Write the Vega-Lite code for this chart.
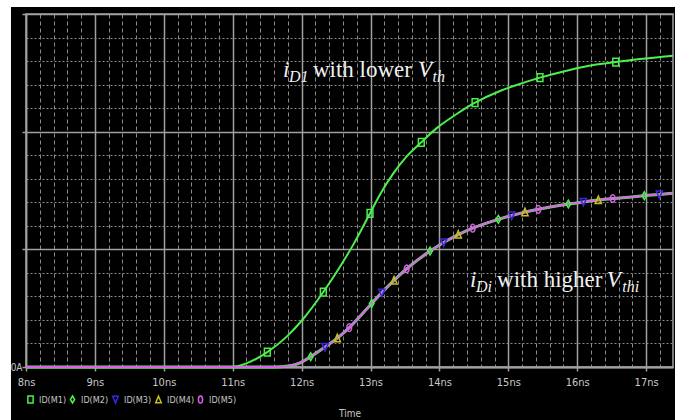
{
  "$schema": "https://vega.github.io/schema/vega-lite/v6.json",
  "width": 647,
  "height": 353,
  "autosize": {"type": "none"},
  "padding": {"left": 26, "top": 14, "right": 13, "bottom": 53},
  "background": "black",
  "config": {
    "view": {"stroke": "#a0a0a0", "strokeWidth": 1.5, "fill": "black"},
    "axis": {"labelOverlap": false, "labelFlush": false, "tickCount": 100}
  },
  "datasets": {
    "m1": [
      {"t": 8, "v": 0}, {"t": 10.98, "v": 0}, {"t": 11.2, "v": 0.031}, {"t": 11.502, "v": 0.127},
      {"t": 11.784, "v": 0.258}, {"t": 12.025, "v": 0.41}, {"t": 12.315, "v": 0.637},
      {"t": 12.557, "v": 0.852}, {"t": 12.75, "v": 1.04}, {"t": 12.993, "v": 1.306},
      {"t": 13.138, "v": 1.466}, {"t": 13.331, "v": 1.645}, {"t": 13.525, "v": 1.79},
      {"t": 13.737, "v": 1.91}, {"t": 13.961, "v": 2.03}, {"t": 14.251, "v": 2.15},
      {"t": 14.517, "v": 2.246}, {"t": 14.879, "v": 2.346}, {"t": 15.122, "v": 2.397},
      {"t": 15.46, "v": 2.459}, {"t": 15.847, "v": 2.518}, {"t": 16.234, "v": 2.566},
      {"t": 16.559, "v": 2.592}, {"t": 16.907, "v": 2.617}, {"t": 17.39, "v": 2.646}
    ],
    "mi": [
      {"t": 8, "v": 0}, {"t": 11.585, "v": 0}, {"t": 11.832, "v": 0.011}, {"t": 11.977, "v": 0.036},
      {"t": 12.132, "v": 0.088}, {"t": 12.34, "v": 0.17}, {"t": 12.518, "v": 0.245},
      {"t": 12.692, "v": 0.335}, {"t": 13.017, "v": 0.54}, {"t": 13.163, "v": 0.632},
      {"t": 13.341, "v": 0.736}, {"t": 13.525, "v": 0.835}, {"t": 13.864, "v": 0.985},
      {"t": 14.062, "v": 1.058}, {"t": 14.274, "v": 1.125}, {"t": 14.483, "v": 1.18},
      {"t": 14.855, "v": 1.255}, {"t": 15.049, "v": 1.288}, {"t": 15.242, "v": 1.316},
      {"t": 15.435, "v": 1.34}, {"t": 15.871, "v": 1.385}, {"t": 16.089, "v": 1.403},
      {"t": 16.306, "v": 1.419}, {"t": 16.515, "v": 1.432}, {"t": 16.974, "v": 1.456},
      {"t": 17.192, "v": 1.467}, {"t": 17.39, "v": 1.476}
    ],
    "markers": [
      {"series": "ID(M1)", "t": 11.502, "v": 0.127}, {"series": "ID(M1)", "t": 12.315, "v": 0.637},
      {"series": "ID(M1)", "t": 12.993, "v": 1.306}, {"series": "ID(M1)", "t": 13.737, "v": 1.91},
      {"series": "ID(M1)", "t": 14.517, "v": 2.246}, {"series": "ID(M1)", "t": 15.46, "v": 2.459},
      {"series": "ID(M1)", "t": 16.559, "v": 2.592},
      {"series": "ID(M2)", "t": 12.132, "v": 0.088}, {"series": "ID(M2)", "t": 13.017, "v": 0.54},
      {"series": "ID(M2)", "t": 13.864, "v": 0.985}, {"series": "ID(M2)", "t": 14.855, "v": 1.255},
      {"series": "ID(M2)", "t": 15.871, "v": 1.385}, {"series": "ID(M2)", "t": 16.974, "v": 1.456},
      {"series": "ID(M3)", "t": 12.34, "v": 0.17}, {"series": "ID(M3)", "t": 13.163, "v": 0.632},
      {"series": "ID(M3)", "t": 14.062, "v": 1.058}, {"series": "ID(M3)", "t": 15.049, "v": 1.288},
      {"series": "ID(M3)", "t": 16.089, "v": 1.403}, {"series": "ID(M3)", "t": 17.192, "v": 1.467},
      {"series": "ID(M4)", "t": 12.518, "v": 0.245}, {"series": "ID(M4)", "t": 13.341, "v": 0.736},
      {"series": "ID(M4)", "t": 14.274, "v": 1.125}, {"series": "ID(M4)", "t": 15.242, "v": 1.316},
      {"series": "ID(M4)", "t": 16.306, "v": 1.419},
      {"series": "ID(M5)", "t": 12.692, "v": 0.335}, {"series": "ID(M5)", "t": 13.525, "v": 0.835},
      {"series": "ID(M5)", "t": 14.483, "v": 1.18}, {"series": "ID(M5)", "t": 15.435, "v": 1.34},
      {"series": "ID(M5)", "t": 16.515, "v": 1.432}
    ],
    "notesMain": [
      {"txt": "i", "t": 11.73, "v": 2.4645}, {"txt": "V", "t": 13.69, "v": 2.4645},
      {"txt": "i", "t": 14.444, "v": 0.6824}, {"txt": "V", "t": 16.43, "v": 0.6824}
    ],
    "notesSub": [
      {"txt": "D1", "t": 11.817, "v": 2.422}, {"txt": "th", "t": 13.9, "v": 2.422},
      {"txt": "Di", "t": 14.531, "v": 0.637}, {"txt": "thi", "t": 16.655, "v": 0.637}
    ],
    "notesRoman": [
      {"txt": "with lower", "t": 12.165, "v": 2.4645},
      {"txt": "with higher", "t": 14.836, "v": 0.6824}
    ],
    "border": [
      {"x1": 7.3, "x2": 7.782, "y1": -1, "y2": 4},
      {"x1": 17.419, "x2": 18.2, "y1": -1, "y2": 4},
      {"x1": 7.3, "x2": 18.2, "y1": 3.059, "y2": 4}
    ]
  },
  "layer": [
    {
      "data": {"name": "m1"},
      "mark": {"type": "line", "color": "#4cf04c", "strokeWidth": 2, "interpolate": "monotone"},
      "encoding": {
        "x": {
          "field": "t", "type": "quantitative",
          "scale": {"domain": [8, 17.39], "nice": false, "zero": false},
          "axis": {
            "values": [8,8.2,8.4,8.6,8.8,9,9.2,9.4,9.6,9.8,10,10.2,10.4,10.6,10.8,11,11.2,11.4,11.6,11.8,12,12.2,12.4,12.6,12.8,13,13.2,13.4,13.6,13.8,14,14.2,14.4,14.6,14.8,15,15.2,15.4,15.6,15.8,16,16.2,16.4,16.6,16.8,17,17.2],
            "tickCount": 100,
            "labelExpr": "abs(datum.value - round(datum.value)) < 0.001 ? datum.value + 'ns' : ''",
            "labelFlush": false,
            "labelOverlap": false,
            "labelColor": "#c8c8c8",
            "labelFont": "Liberation Sans Narrow, DejaVu Sans Condensed, DejaVu Sans Mono",
            "labelFontSize": 11,
            "labelPadding": 5,
            "domainColor": "#a0a0a0",
            "domainWidth": 2,
            "tickColor": "#a0a0a0",
            "tickSize": 4,
            "tickWidth": 1.5,
            "tickOpacity": {"condition": {"test": "abs(datum.value - round(datum.value)) < 0.001", "value": 1}, "value": 0},
            "grid": true,
            "gridColor": {"condition": {"test": "abs(datum.value - round(datum.value)) < 0.001", "value": "#a0a0a0"}, "value": "#8a8a8a"},
            "gridWidth": {"condition": {"test": "abs(datum.value - round(datum.value)) < 0.001", "value": 1.5}, "value": 1},
            "gridDash": {"condition": {"test": "abs(datum.value - round(datum.value)) < 0.001", "value": []}, "value": [4, 3]},
            "title": "Time",
            "titleColor": "#c8c8c8",
            "titleFont": "Liberation Sans Narrow, DejaVu Sans Condensed, DejaVu Sans Mono",
            "titleFontSize": 10,
            "titleFontWeight": "normal",
            "titleBaseline": "middle",
            "titleY": 46
          }
        },
        "y": {
          "field": "v", "type": "quantitative",
          "scale": {"domain": [0, 3], "nice": false, "zero": false},
          "axis": {
            "values": [0,0.2,0.4,0.6,0.8,1,1.2,1.4,1.6,1.8,2,2.2,2.4,2.6,2.8,3],
            "tickCount": 100,
            "labelExpr": "datum.value === 0 ? '0A' : ''",
            "labelOverlap": false,
            "labelColor": "#c8c8c8",
            "labelFont": "Liberation Sans Narrow, DejaVu Sans Condensed, DejaVu Sans Mono",
            "labelFontSize": 10,
            "labelPadding": 0,
            "domainColor": "#a0a0a0",
            "domainWidth": 1.5,
            "tickColor": "#a0a0a0",
            "tickSize": 4,
            "tickWidth": 1.5,
            "tickOpacity": {"condition": {"test": "abs(datum.value - round(datum.value)) < 0.001", "value": 1}, "value": 0},
            "grid": true,
            "gridColor": {"condition": {"test": "abs(datum.value - round(datum.value)) < 0.001", "value": "#a0a0a0"}, "value": "#8a8a8a"},
            "gridWidth": {"condition": {"test": "abs(datum.value - round(datum.value)) < 0.001", "value": 1.5}, "value": 1},
            "gridDash": {"condition": {"test": "abs(datum.value - round(datum.value)) < 0.001", "value": []}, "value": [2, 2]},
            "title": null
          }
        }
      }
    },
    {
      "data": {"name": "mi"},
      "mark": {"type": "line", "color": "#4cf04c", "strokeWidth": 3, "interpolate": "monotone"},
      "encoding": {
        "x": {"field": "t", "type": "quantitative", "scale": {"domain": [8, 17.39], "nice": false, "zero": false}},
        "y": {"field": "v", "type": "quantitative", "scale": {"domain": [0, 3], "nice": false, "zero": false}}
      }
    },
    {
      "data": {"name": "mi"},
      "mark": {"type": "line", "color": "#e060f0", "strokeWidth": 2, "interpolate": "monotone"},
      "encoding": {
        "x": {"field": "t", "type": "quantitative", "scale": {"domain": [8, 17.39], "nice": false, "zero": false}},
        "y": {"field": "v", "type": "quantitative", "scale": {"domain": [0, 3], "nice": false, "zero": false}}
      }
    },
    {
      "data": {"name": "markers"},
      "mark": {"type": "point", "filled": false, "strokeWidth": 1.5, "size": 60, "opacity": 1},
      "encoding": {
        "x": {"field": "t", "type": "quantitative", "scale": {"domain": [8, 17.39], "nice": false, "zero": false}},
        "y": {"field": "v", "type": "quantitative", "scale": {"domain": [0, 3], "nice": false, "zero": false}},
        "color": {
          "field": "series", "type": "nominal",
          "scale": {"domain": ["ID(M1)", "ID(M2)", "ID(M3)", "ID(M4)", "ID(M5)"], "range": ["#4cf04c", "#4cf04c", "#3c28d8", "#c8c020", "#d860e8"]},
          "legend": {
            "orient": "none", "legendX": 0, "legendY": 381, "direction": "horizontal", "columns": 5,
            "columnPadding": 0, "symbolSize": 49, "symbolStrokeWidth": 1.5, "labelOffset": 4,
            "labelFont": "Liberation Sans Narrow, DejaVu Sans Condensed, DejaVu Sans Mono",
            "labelFontSize": 9, "labelColor": "#c8c8c8", "title": null, "padding": 0
          }
        },
        "shape": {
          "field": "series", "type": "nominal",
          "scale": {"domain": ["ID(M1)", "ID(M2)", "ID(M3)", "ID(M4)", "ID(M5)"], "range": ["M-0.75,-1L0.75,-1L0.75,1L-0.75,1Z", "M0,-1L0.6,0L0,1L-0.6,0Z", "M-0.8,-0.9L0.8,-0.9L0,1Z", "M0,-1L0.8,0.9L-0.8,0.9Z", "M0,-1C0.8,-1 0.8,1 0,1C-0.8,1 -0.8,-1 0,-1Z"]},
          "legend": {
            "orient": "none", "legendX": 0, "legendY": 381, "direction": "horizontal", "columns": 5,
            "columnPadding": 0, "symbolSize": 49, "symbolStrokeWidth": 1.5, "labelOffset": 4,
            "labelFont": "Liberation Sans Narrow, DejaVu Sans Condensed, DejaVu Sans Mono",
            "labelFontSize": 9, "labelColor": "#c8c8c8", "title": null, "padding": 0
          }
        }
      }
    },
    {
      "data": {"name": "notesMain"},
      "mark": {"type": "text", "align": "left", "baseline": "alphabetic", "font": "Liberation Serif", "fontStyle": "italic", "fontSize": 23, "color": "#f0f0f0"},
      "encoding": {
        "x": {"field": "t", "type": "quantitative", "scale": {"domain": [8, 17.39], "nice": false, "zero": false}},
        "y": {"field": "v", "type": "quantitative", "scale": {"domain": [0, 3], "nice": false, "zero": false}},
        "text": {"field": "txt"}
      }
    },
    {
      "data": {"name": "notesSub"},
      "mark": {"type": "text", "align": "left", "baseline": "alphabetic", "font": "Liberation Serif", "fontStyle": "italic", "fontSize": 16, "color": "#f0f0f0"},
      "encoding": {
        "x": {"field": "t", "type": "quantitative", "scale": {"domain": [8, 17.39], "nice": false, "zero": false}},
        "y": {"field": "v", "type": "quantitative", "scale": {"domain": [0, 3], "nice": false, "zero": false}},
        "text": {"field": "txt"}
      }
    },
    {
      "data": {"name": "notesRoman"},
      "mark": {"type": "text", "align": "left", "baseline": "alphabetic", "font": "Liberation Serif", "fontSize": 23, "color": "#f0f0f0"},
      "encoding": {
        "x": {"field": "t", "type": "quantitative", "scale": {"domain": [8, 17.39], "nice": false, "zero": false}},
        "y": {"field": "v", "type": "quantitative", "scale": {"domain": [0, 3], "nice": false, "zero": false}},
        "text": {"field": "txt"}
      }
    },
    {
      "data": {"name": "border"},
      "mark": {"type": "rect", "color": "white"},
      "encoding": {
        "x": {"field": "x1", "type": "quantitative", "scale": {"domain": [8, 17.39], "nice": false, "zero": false}},
        "x2": {"field": "x2"},
        "y": {"field": "y1", "type": "quantitative", "scale": {"domain": [0, 3], "nice": false, "zero": false}},
        "y2": {"field": "y2"}
      }
    }
  ]
}
